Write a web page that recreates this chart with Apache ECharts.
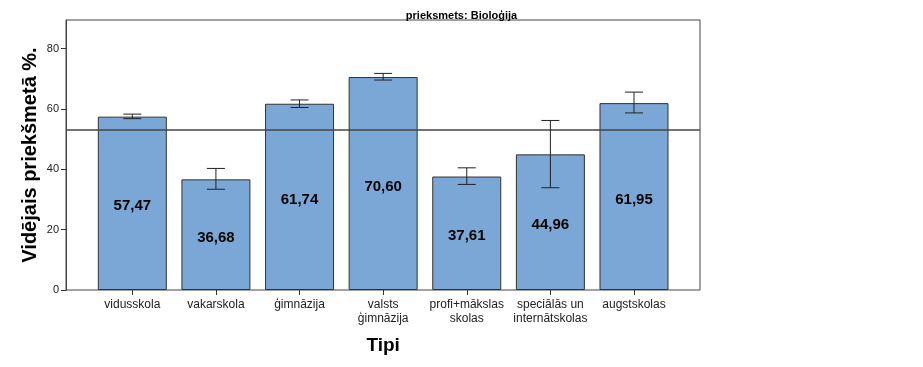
<!DOCTYPE html>
<html><head><meta charset="utf-8">
<script src="https://cdn.jsdelivr.net/npm/echarts@6/dist/echarts.min.js"></script>
<style>html,body{margin:0;padding:0;background:#fff}#c{width:923px;height:367px}</style>
</head><body><div id="c"></div>
<script>
const categories = ['vidusskola','vakarskola','ģimnāzija','valsts\nģimnāzija','profi+mākslas\nskolas','speciālās un\ninternātskolas','augstskolas'];
const means = [57.47, 36.68, 61.74, 70.60, 37.61, 44.96, 61.95];
const errLow = [56.8, 33.4, 60.5, 69.6, 35.0, 33.9, 58.7];
const errHigh = [58.3, 40.3, 63.0, 71.8, 40.5, 56.2, 65.6];
const refValue = 53.07;
const yTicks = [0, 20, 40, 60, 80];

const font = 'Liberation Sans, Arial, sans-serif';
const chart = echarts.init(document.getElementById('c'), null, {renderer:'canvas'});
const YMAX = 89.5;
chart.setOption({
  animation:false,
  title:{text:'prieksmets: Bioloģija', left:'center', top:5,
    textStyle:{fontFamily:font, fontSize:11, fontWeight:'bold', color:'#000'}},
  grid:[
    {left:66, right:223, top:20, bottom:77, show:true, borderColor:'#444', borderWidth:1, backgroundColor:'#fff'},
    {left:90.5, right:247.2, top:20, bottom:77}
  ],
  xAxis:[
    {gridIndex:0, type:'value', min:0, max:1, show:false},
    {gridIndex:1, type:'category', data:categories,
      axisLine:{show:false},
      axisTick:{show:true, alignWithLabel:true, length:5, lineStyle:{color:'#333'}},
      axisLabel:{fontFamily:font, fontSize:12, color:'#222', margin:8, lineHeight:14, interval:0},
      name:'Tipi', nameLocation:'middle', nameGap:46,
      nameTextStyle:{fontFamily:font, fontSize:19, fontWeight:'bold', color:'#000'}}
  ],
  yAxis:[
    {gridIndex:0, type:'value', min:0, max:YMAX, interval:20,
      axisLine:{show:true, lineStyle:{color:'#444'}},
      axisTick:{show:true, length:5, lineStyle:{color:'#333'}},
      splitLine:{show:false},
      axisLabel:{fontFamily:font, fontSize:11, color:'#222', margin:7, showMaxLabel:false,
        formatter:v => yTicks.includes(v) ? String(v) : ''},
      name:'Vidējais priekšmetā %.', nameLocation:'middle', nameGap:26, nameMoveOverlap:false,
      nameTextStyle:{fontFamily:font, fontSize:20, fontWeight:'bold', color:'#000'}},
    {gridIndex:1, type:'value', min:0, max:YMAX, show:false}
  ],
  series:[
    {type:'bar', xAxisIndex:1, yAxisIndex:1, data:means, barWidth:69,
      itemStyle:{color:'#7ba7d6', borderColor:'#333', borderWidth:1},
      label:{show:true, position:'inside', offset:[0,3], fontFamily:font, fontSize:15, fontWeight:'bold', color:'#000',
        formatter:p => p.value.toFixed(2).replace('.', ',')},
      z:2},
    {type:'line', xAxisIndex:0, yAxisIndex:0, data:[], silent:true,
      markLine:{symbol:'none', silent:true, label:{show:false},
        lineStyle:{color:'#444', width:1.5, type:'solid'},
        data:[{yAxis:refValue}]}, z:5},
    {type:'custom', xAxisIndex:1, yAxisIndex:1, z:6,
      data: categories.map((c,i)=>[i, errLow[i], errHigh[i]]),
      renderItem:(params, api)=>{
        const lo = api.coord([api.value(0), api.value(1)]);
        const hi = api.coord([api.value(0), api.value(2)]);
        const hw = 9;
        const st = {stroke:'#222', lineWidth:1};
        return {type:'group', children:[
          {type:'line', shape:{x1:lo[0], y1:lo[1], x2:hi[0], y2:hi[1]}, style:st},
          {type:'line', shape:{x1:lo[0]-hw, y1:lo[1], x2:lo[0]+hw, y2:lo[1]}, style:st},
          {type:'line', shape:{x1:hi[0]-hw, y1:hi[1], x2:hi[0]+hw, y2:hi[1]}, style:st}
        ]};
      }}
  ]
});
</script></body></html>
